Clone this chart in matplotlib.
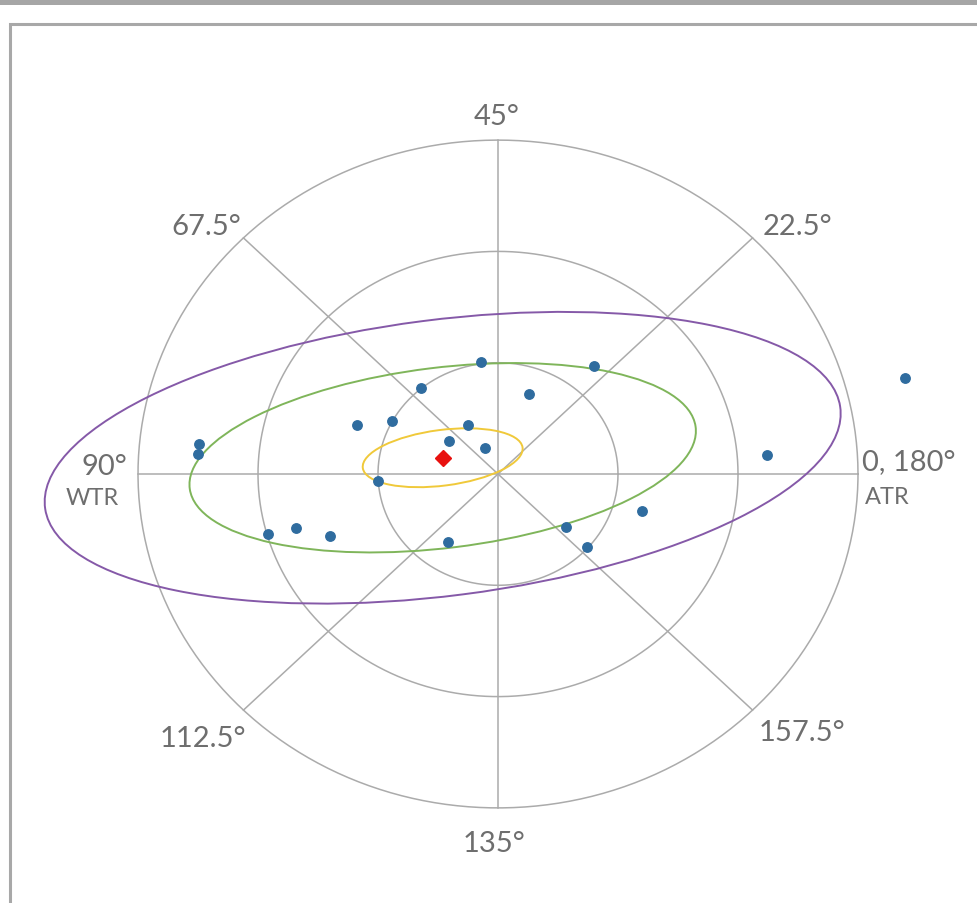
import numpy as np
import matplotlib
matplotlib.use("Agg")
import matplotlib.pyplot as plt
from matplotlib.patches import Ellipse, Rectangle

plt.rcParams['font.family'] = ['Lato', 'DejaVu Sans']

# double-angle plot data (units = rings)
x_pts = [-0.142, 0.803, -0.642, 0.258, -1.175, -0.886, -0.253, -0.408, -0.108,
         -2.489, -2.498, -1.000, 2.244, 3.389, -1.919, -1.686, -1.400, -0.419,
         0.569, 0.744, 1.203]
y_pts = [1.004, 0.968, 0.775, 0.716, 0.440, 0.476, 0.443, 0.296, 0.236,
         0.272, 0.177, -0.063, 0.168, 0.860, -0.542, -0.482, -0.554, -0.614,
         -0.479, -0.659, -0.335]

mean_x, mean_y = -0.461, 0.146

# ellipses: semi-major, semi-minor, angle (deg), colour
ell_a = [0.672, 2.126, 3.344]
ell_b = [0.25, 0.81, 1.239]
ell_ang = [8.0, 7.6, 7.9]
ell_col = ['#f0c93a', '#7fb55a', '#8559a8']

rings = [1, 2, 3]
spokes = [0, 45, 90, 135]

labels = ['45°', '67.5°', '22.5°', '90°', '112.5°', '157.5°', '135°']
lab_x = [-0.008, -2.433, 2.492, -3.283, -2.458, 2.533, -0.033]
lab_y = [3.145, 2.156, 2.156, 0.0, -2.444, -2.390, -3.387]

fig = plt.figure(figsize=(9.78, 9.04), dpi=100)
ax = fig.add_axes([0, 0, 1, 1])
ax.set_xlim(-498 / 120, (978 - 498) / 120)
ax.set_ylim((475 - 904) / 111.3, 475 / 111.3)
ax.axis('off')

# grid
grid_col = '#ababab'
t = np.linspace(0, 2 * np.pi, 400)
for r in rings:
    ax.plot(r * np.cos(t), r * np.sin(t), color=grid_col, lw=1.1, zorder=1)
for a in spokes:
    ra = np.radians(a)
    R = rings[-1]
    ax.plot([-R * np.cos(ra), R * np.cos(ra)], [-R * np.sin(ra), R * np.sin(ra)],
            color=grid_col, lw=1.1, zorder=1)

for a, b, ang, c in zip(ell_a, ell_b, ell_ang, ell_col):
    ax.add_patch(Ellipse((mean_x, mean_y), 2 * a, 2 * b, angle=ang,
                         fill=False, edgecolor=c, lw=1.4, zorder=2))

ax.plot(x_pts, y_pts, 'o', color='#2f6c9f', markersize=6.8, zorder=3)
ax.plot([mean_x], [mean_y], 'D', color='#e8110f', markersize=8.5, zorder=4)

txt_col = '#6e6e6e'
for s, x, y in zip(labels, lab_x, lab_y):
    ax.text(x, y, s, ha='center', va='baseline', fontsize=21, color=txt_col)
ax.text(-3.383, -0.270, 'WTR', ha='center', va='baseline', fontsize=17, color=txt_col)
ax.text(3.033, 0.045, '0, 180°', ha='left', va='baseline', fontsize=21, color=txt_col)
ax.text(3.058, -0.261, 'ATR', ha='left', va='baseline', fontsize=17, color=txt_col)

# frame and top band
W, H = 978, 904
fig.add_artist(Rectangle((0, 1 - 6 / H), 1, 6 / H, transform=fig.transFigure,
                         facecolor='#a6a6a6', edgecolor='none'))
fig.add_artist(Rectangle((10 / W, -0.05), 1.1, 1 - 25 / H + 0.05,
                         transform=fig.transFigure, facecolor='none',
                         edgecolor='#a8a8a8', lw=2.2))

fig.savefig('out.png', dpi=100)
